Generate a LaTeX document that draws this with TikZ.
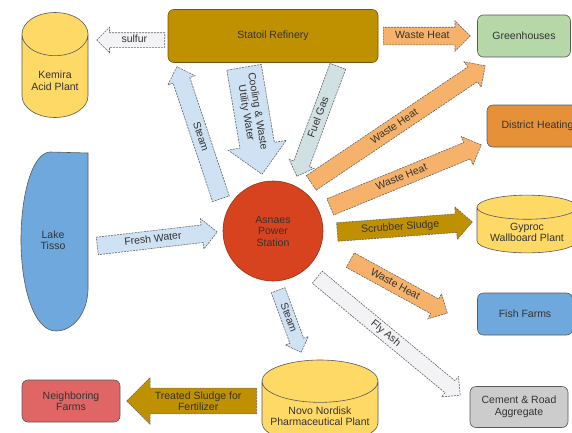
\documentclass[tikz,border=0pt]{standalone}
\usepackage{fontspec}
\setmainfont{Liberation Sans}
\usetikzlibrary{shapes.arrows,shapes.geometric,calc}

\definecolor{tankyellow}{HTML}{FFD966}
\definecolor{refgold}{HTML}{BF9000}
\definecolor{heatorange}{HTML}{F6B26B}
\definecolor{waterblue}{HTML}{CFE2F3}
\definecolor{gasblue}{HTML}{D0E0E3}
\definecolor{ashwhite}{HTML}{F3F3F5}
\definecolor{housegreen}{HTML}{B6D7A8}
\definecolor{distorange}{HTML}{E69138}
\definecolor{fishblue}{HTML}{6FA8DC}
\definecolor{cementgray}{HTML}{CCCCCC}
\definecolor{farmred}{HTML}{E06666}
\definecolor{stationred}{HTML}{D8431F}

% name, style, from, to, text, flip
\newcommand\flow[6]{%
  \path let \p1=($(#4)-(#3)$), \n1={veclen(\x1,\y1)}, \n2={atan2(\y1,\x1)} in
    node[#2, minimum height=\n1, rotate=\n2-#6, shape border rotate=#6, anchor=tail] (#1) at (#3) {#5};}

\begin{document}
\begin{tikzpicture}[x=1pt,y=-1pt,
  every node/.style={font=\fontsize{10.5}{11.5}\selectfont, text=black!80},
  site/.style={draw=black!65, line width=.6pt, rounded corners=6pt, align=center},
  tank/.style={cylinder, shape border rotate=90, draw=black!65, line width=.6pt, anchor=shape center,
    cylinder uses custom fill, cylinder body fill=tankyellow, cylinder end fill=tankyellow, align=center},
  flow/.style={single arrow, draw=black!60, line width=.6pt, dash pattern=on 2pt off 1pt,
    inner xsep=1pt, text height=7.5pt, text depth=2pt, align=center},
  twoline/.style={text height={}, text depth={}},
  heatflow/.style={flow, fill=heatorange},
  waterflow/.style={flow, fill=waterblue},
  sludgeflow/.style={flow, fill=refgold},
  gasflow/.style={flow, fill=gasblue},
  ashflow/.style={flow, fill=ashwhite}]

\useasboundingbox (0,0) rectangle (572,432);
\clip (0,0) rectangle (572,432);

\node[tank, minimum width=66pt, minimum height=105pt, aspect=0.8] (kemira) at (55,65) {Kemira\\Acid Plant};
\node[site, fill=refgold, draw=refgold!60!black, minimum width=210pt, minimum height=53pt] (refinery) at (273,36) {Statoil Refinery};
\node[site, fill=housegreen, minimum width=93pt, minimum height=42pt] (greenhouses) at (524,36) {Greenhouses};
\node[site, fill=distorange, minimum width=96pt, minimum height=42pt, text width=86pt] (district) at (535,126) {\hspace*{5pt}District Heating};
\draw[fill=fishblue, draw=black!65, line width=.6pt] (88,153) -- (88,290) .. controls (87,315) and (72,331) .. (56,331)
  .. controls (33,331) and (21,285) .. (21,240) .. controls (21,195) and (32,153) .. (50,152) -- cycle;
\node[align=center] (lake) at (53,240) {Lake\\Tisso};
\node[circle, fill=stationred, draw=stationred!70!black, line width=.6pt, minimum size=100pt, align=center] (station) at (273,231) {Asnaes\\Power\\Station};
\node[tank, minimum width=100pt, minimum height=48pt, aspect=0.3] (gyproc) at (527,224) {Gyproc\\Wallboard Plant};
\node[site, fill=fishblue, minimum width=95pt, minimum height=42pt] (fishfarms) at (525,314) {Fish Farms};
\node[site, fill=cementgray, minimum width=98pt, minimum height=41pt] (cement) at (519,407) {Cement \& Road\\Aggregate};
\node[tank, minimum width=116pt, minimum height=84pt, aspect=0.4] (novo) at (320,402) {Novo Nordisk\\Pharmaceutical Plant};
\node[site, fill=farmred, minimum width=98pt, minimum height=42pt] (farms) at (71,401) {Neighboring\\Farms};

\coordinate (sulfur-a) at (165,40);    \coordinate (sulfur-b) at (97,40);
\coordinate (steamup-a) at (221,199);  \coordinate (steamup-b) at (177,67);
\coordinate (cooling-a) at (244,67);   \coordinate (cooling-b) at (262,174);
\coordinate (fuelgas-a) at (338,66);   \coordinate (fuelgas-b) at (297,176);
\coordinate (heat1-a) at (383,36);     \coordinate (heat1-b) at (470,36);
\coordinate (heat2-a) at (311,183);    \coordinate (heat2-b) at (485,66);
\coordinate (heat3-a) at (330,207);    \coordinate (heat3-b) at (481,145);
\coordinate (scrubber-a) at (337,232); \coordinate (scrubber-b) at (472,222);
\coordinate (heat4-a) at (350,260);    \coordinate (heat4-b) at (447,313);
\coordinate (flyash-a) at (317,277);   \coordinate (flyash-b) at (460,395);
\coordinate (steamdn-a) at (278,290);  \coordinate (steamdn-b) at (301,352);
\coordinate (fresh-a) at (97,246);     \coordinate (fresh-b) at (217,232);
\coordinate (treated-a) at (257,401);  \coordinate (treated-b) at (127,401);

\flow{sulfur}{ashflow, inner ysep=2.25pt, single arrow head extend=5.5pt}{sulfur-a}{sulfur-b}{sulfur}{180}
\flow{steamup}{waterflow, inner ysep=3.75pt, single arrow head extend=5.5pt}{steamup-a}{steamup-b}{Steam}{180}
\flow{cooling}{waterflow, twoline, inner ysep=6.5pt, single arrow head extend=12pt}{cooling-a}{cooling-b}{Cooling \& Waste\\Utility Water}{0}
\flow{fuelgas}{gasflow, inner ysep=3.25pt, single arrow head extend=5pt}{fuelgas-a}{fuelgas-b}{Fuel Gas}{180}
\flow{heat1}{heatflow, inner ysep=3.75pt, single arrow head extend=6.5pt}{heat1-a}{heat1-b}{Waste Heat}{0}
\flow{heat2}{heatflow, inner ysep=3.75pt, single arrow head extend=6.5pt}{heat2-a}{heat2-b}{Waste Heat}{0}
\flow{heat3}{heatflow, inner ysep=3.75pt, single arrow head extend=6.5pt}{heat3-a}{heat3-b}{Waste Heat}{0}
\flow{scrubber}{sludgeflow, inner ysep=4.25pt, single arrow head extend=7pt}{scrubber-a}{scrubber-b}{Scrubber Sludge}{0}
\flow{heat4}{heatflow, inner ysep=3.25pt, single arrow head extend=6pt}{heat4-a}{heat4-b}{Waste Heat}{0}
\flow{flyash}{ashflow, inner ysep=2.75pt, single arrow head extend=5.5pt}{flyash-a}{flyash-b}{Fly Ash}{0}
\flow{steamdn}{waterflow, inner ysep=2.25pt, single arrow head extend=5pt}{steamdn-a}{steamdn-b}{Steam}{0}
\flow{fresh}{waterflow, inner ysep=3.75pt, single arrow head extend=6.5pt}{fresh-a}{fresh-b}{Fresh Water}{0}
\flow{treated}{sludgeflow, twoline, inner ysep=3pt, single arrow head extend=10.5pt}{treated-a}{treated-b}{Treated Sludge for\\Fertilizer}{180}

\end{tikzpicture}
\end{document}
